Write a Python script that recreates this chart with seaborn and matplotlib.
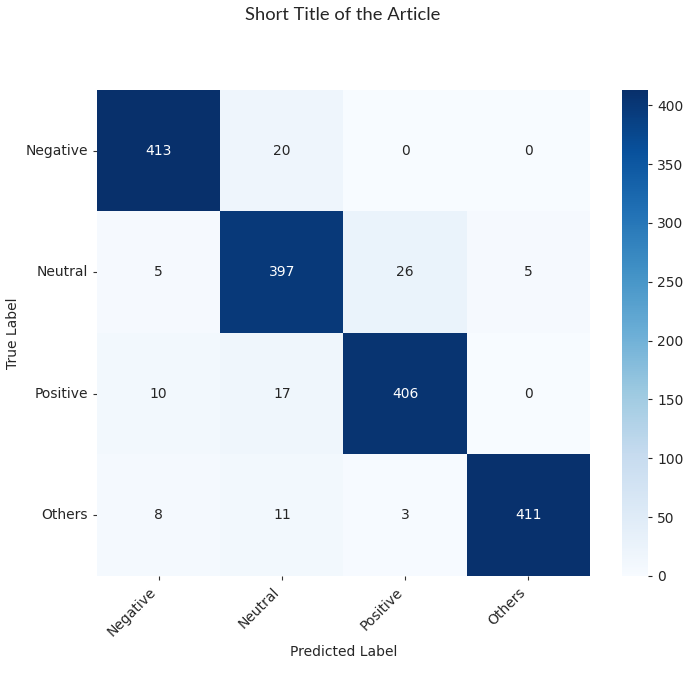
import matplotlib
matplotlib.use("Agg")
import matplotlib.pyplot as plt
import seaborn as sns
import numpy as np
import pandas as pd

labels = ["Negative", "Neutral", "Positive", "Others"]
row_negative = [413, 20, 0, 0]
row_neutral = [5, 397, 26, 5]
row_positive = [10, 17, 406, 0]
row_others = [8, 11, 3, 411]

cm = pd.DataFrame([row_negative, row_neutral, row_positive, row_others],
                  index=labels, columns=labels)

sns.set_style("white")
plt.rcParams['font.family'] = ['DejaVu Sans']

fig = plt.figure(figsize=(6.86, 6.79), dpi=100)
ax = fig.add_axes([0.1414, 0.1517, 0.7186, 0.7158])
cax = fig.add_axes([0.9067, 0.1517, 0.038, 0.7158])

sns.heatmap(cm, annot=True, fmt="d", cmap="Blues", ax=ax, cbar_ax=cax,
            annot_kws={"fontsize": 10})

ax.set_xlabel("Predicted Label", fontsize=10)
ax.set_ylabel("True Label", fontsize=10)
ax.set_xticklabels(labels, rotation=45, ha="right", fontsize=10)
ax.set_yticklabels(labels, rotation=0, fontsize=10)
ax.tick_params(axis="both", length=3, width=0.8, color="#333333")
ax.tick_params(axis="both", which="both", left=True, bottom=True)
cax.tick_params(labelsize=10, length=3)

fig.suptitle("Short Title of the Article", y=0.99, fontsize=13.2,
             family=["Lato", "DejaVu Sans"])

fig.savefig("out.png", dpi=100)
